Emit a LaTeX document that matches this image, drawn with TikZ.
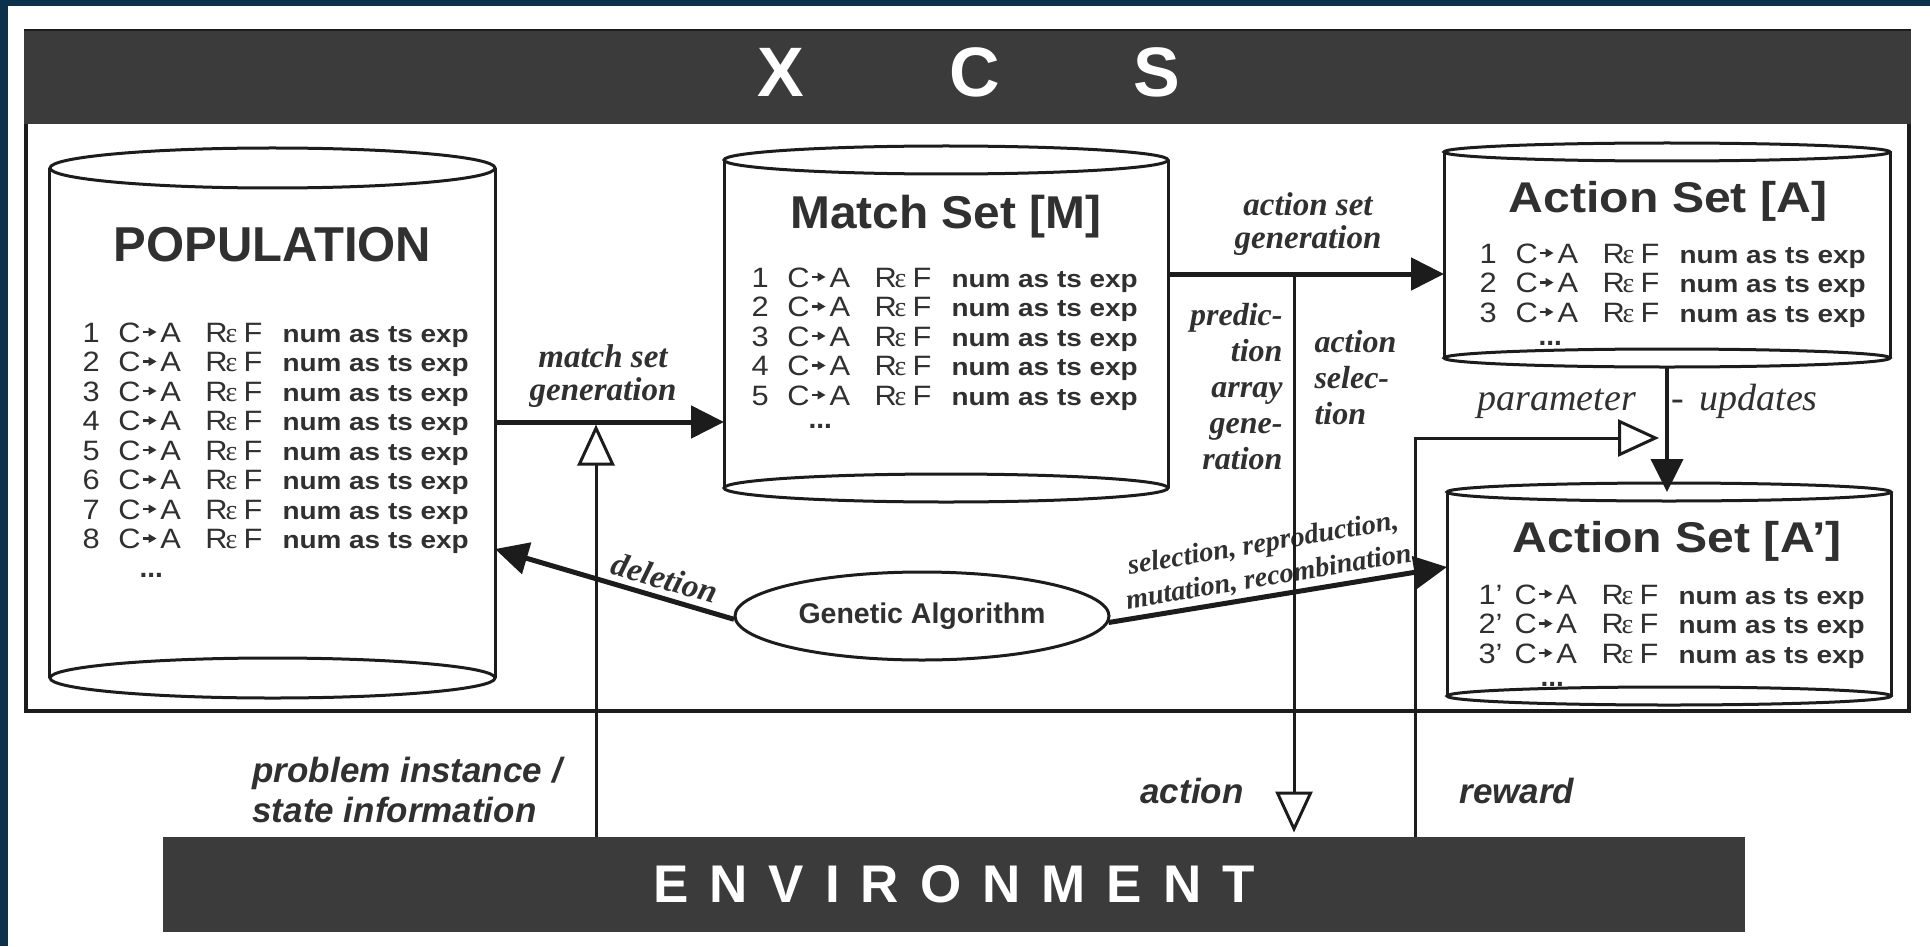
\documentclass[tikz,border=0pt]{standalone}
\usepackage{graphicx}
\usepackage{fontspec}
\setmainfont{Liberation Serif}
\setsansfont{Liberation Sans}
\newfontfamily\rowfont[FakeStretch=1.1]{Liberation Sans}
\newfontfamily\numfont[FakeStretch=1.14]{Liberation Sans}
\newfontfamily\epsfont{Liberation Serif}
\usetikzlibrary{arrows.meta,shapes.geometric}

\definecolor{navy}{HTML}{0C314C}
\definecolor{barfill}{HTML}{3B3B3B}
\definecolor{ink}{HTML}{1C1C1C}
\definecolor{txt}{HTML}{303030}

% one classifier line: id, condition -> action, R eps F, bookkeeping fields
\newcommand\clrow[1]{%
  \makebox[14.4pt][l]{#1}\makebox[8pt][l]{C}\hspace{8.8pt}%
  \makebox[18pt][l]{A}\makebox[8pt][l]{R}%
  \makebox[7.2pt][l]{\epsfont ε}\makebox[15.6pt][l]{F}%
  {\numfont\bfseries\fontsize{9.8pt}{12pt}\selectfont num as ts exp}}

% cylinder outline around a named body node
\newcommand\drawcyl[3]{%
  \draw[cylline] (#1.north west) -- (#1.south west)
                 (#1.north east) -- (#1.south east);
  \draw[cylline] (#1.north) ellipse [x radius=#2, y radius=#3]
                 (#1.south) ellipse [x radius=#2, y radius=#3];}

% classifier list: name, x, first baseline, count, suffix
\newcommand\rulerows[5]{%
  \foreach \i in {1,...,#4}{%
    \node[rowtext] (#1-r\i) at (#2,{#3+29.5*(\i-1)}) {\clrow{\i#5}};
    \pic at ({#2+60.5},{#3+29.5*(\i-1)}) {rowarrow};
  }}

\tikzset{
  cylline/.style={draw=ink, line width=1.2pt},
  cylbody/.style={inner sep=0pt, outer sep=0pt, draw=none},
  heavy/.style={draw=ink, line width=2pt, -{Triangle[length=13.2pt,width=12.8pt]}},
  hollow/.style={draw=ink, line width=1.2pt, -{Triangle[open,length=16.4pt,width=14.8pt]}},
  bartitle/.style={inner sep=0pt, text=white, font=\sffamily\bfseries\fontsize{28pt}{30pt}\selectfont},
  settitle/.style={inner sep=0pt, text=txt, anchor=base},
  rowtext/.style={anchor=base west, inner sep=0pt, text=txt, font=\rowfont\fontsize{11.2pt}{13pt}\selectfont},
  lblit/.style={inner sep=0pt, text=txt, align=center, font=\bfseries\itshape\fontsize{13.2pt}{13.2pt}\selectfont},
  lblitb/.style={inner sep=0pt, text=txt, font=\bfseries\itshape\fontsize{12.8pt}{14.4pt}\selectfont},
  lblitc/.style={inner sep=0pt, text=txt, align=center, font=\bfseries\itshape\fontsize{11.3pt}{13.6pt}\selectfont},
  lblpu/.style={inner sep=0pt, text=txt, font=\itshape\fontsize{15.2pt}{17pt}\selectfont},
  lblsans/.style={inner sep=0pt, text=txt, font=\sffamily\bfseries\itshape\fontsize{14pt}{16pt}\selectfont},
  rowarrow/.pic={
    \fill[txt] (0pt,3.55pt) rectangle (3.2pt,4.45pt);
    \fill[txt] (2.4pt,2.15pt) -- (5.6pt,4.0pt) -- (2.4pt,5.85pt) -- cycle;
  }
}

\begin{document}
\begin{tikzpicture}[x=0.4pt,y=-0.4pt]
\useasboundingbox (0,0) rectangle (1930,946);
\fill[white] (0,0) rectangle (1930,946);
\fill[navy] (0,0) rectangle (1930,6);
\fill[navy] (0,0) rectangle (8,946);

% system frame with its title bar
\draw[ink, line width=1.6pt] (25.5,31) rectangle (1909,711);
\node[fill=barfill, inner sep=0pt, minimum width=754.8pt, minimum height=37.2pt] (xcs) at (967.5,77.5) {};
\node[bartitle] (xcs-x) at (781,72) {X};
\node[bartitle] (xcs-c) at (975,72) {C};
\node[bartitle] (xcs-s) at (1157,72) {S};

% environment bar
\node[fill=barfill, inner sep=0pt, minimum width=632.8pt, minimum height=38pt, text=white,
      font=\sffamily\bfseries\fontsize{21.2pt}{24pt}\selectfont] (env) at (954,884.5)
  {E\kern8.4pt N\kern8.4pt V\kern8.4pt I\kern8.4pt R\kern8.4pt O\kern8.4pt N\kern8.4pt M\kern8.4pt E\kern8.4pt N\kern8.4pt T};

% classifier sets
\node[cylbody, minimum width=178pt, minimum height=204pt] (pop) at (272.5,423) {};
\drawcyl{pop}{89pt}{8pt}
\node[cylbody, minimum width=177.6pt, minimum height=131.2pt] (ms) at (946,324) {};
\drawcyl{ms}{88.8pt}{5.6pt}
\node[cylbody, minimum width=178.4pt, minimum height=82.4pt] (asa) at (1667,255) {};
\drawcyl{asa}{89.2pt}{3.6pt}
\node[cylbody, minimum width=177.6pt, minimum height=81.6pt] (asb) at (1669,594) {};
\drawcyl{asb}{88.8pt}{3.6pt}

\node[settitle, font=\sffamily\bfseries\fontsize{19.6pt}{22pt}\selectfont] (pop-title) at (272.5,261) {POPULATION};
\node[settitle, font=\sffamily\bfseries\fontsize{18.4pt}{20pt}\selectfont] (ms-title) at (946,228) {\scalebox{1.04}[1]{Match Set [M]}};
\node[settitle, font=\sffamily\bfseries\fontsize{17.2pt}{20pt}\selectfont] (asa-title) at (1668,212) {\scalebox{1.12}[1]{Action Set [A]}};
\node[settitle, font=\sffamily\bfseries\fontsize{17.2pt}{20pt}\selectfont] (asb-title) at (1677,552) {\scalebox{1.12}[1]{Action Set [A’]}};

\rulerows{pop}{82}{342}{8}{}
\rulerows{ms}{751}{287}{5}{}
\rulerows{asa}{1479}{263}{3}{}
\rulerows{asb}{1478}{604}{3}{’}
\node[rowtext] (pop-dots) at (139,577) {\sffamily\bfseries ...};
\node[rowtext] (ms-dots) at (808,428) {\sffamily\bfseries ...};
\node[rowtext] (asa-dots) at (1538,345) {\sffamily\bfseries ...};
\node[rowtext] (asb-dots) at (1540,686) {\sffamily\bfseries ...};

% genetic algorithm
\node[ellipse, draw=ink, line width=1.2pt, minimum width=149.6pt, minimum height=35.2pt, inner sep=0pt,
      text=txt, font=\sffamily\bfseries\fontsize{11.4pt}{13pt}\selectfont] (ga) at (922,616) {Genetic Algorithm};

% labels
\node[lblit, anchor=north] (lbl-msgen) at (603,344) {\strut match set\\generation};
\node[lblit, anchor=north] (lbl-asgen) at (1308,192) {\strut action set\\generation};
\node[lblitb, anchor=north east, align=right] (lbl-pa) at (1283,300) {\strut predic-\\tion\\array\\gene-\\ration};
\node[lblitb, anchor=north west, align=left] (lbl-sel) at (1314,327) {\strut action\\selec-\\tion};
\node[lblit, rotate=-16] (lbl-del) at (665,578) {deletion};
\node[lblitc, rotate=9.5] (lbl-ga) at (1266,561) {selection, reproduction,\\mutation, recombination};
\node[lblpu, anchor=base west] (lbl-par) at (1477,410) {parameter};
\node[lblpu, anchor=base west] (lbl-upd) at (1671,410) {\makebox[11.2pt][l]{-}updates};
\node[lblsans, anchor=north west, align=left] (lbl-prob) at (252,754) {\strut problem instance /\\state information};
\node[lblsans, anchor=base west] (lbl-act) at (1140,803) {action};
\node[lblsans, anchor=base west] (lbl-rew) at (1459,803) {reward};

% junction points of the connectors
\coordinate (msj) at (596,422);
\coordinate (actj) at (1294,274);
\coordinate (rewj) at (1415,438);
\coordinate (delj) at (495,549);
\coordinate (selj) at (1447,567);

% connectors
\draw[heavy] (pop.east |- msj) -- (ms.west |- msj);
\draw[hollow, shorten >=1pt] (env.north -| msj) -- (msj);
\draw[heavy] (ms.east |- actj) -- (asa.west |- actj);
\draw[hollow, shorten >=1.6pt] (actj) -- (actj |- env.north);
\draw[hollow, shorten >=3.2pt] (env.north -| rewj) -- (rewj) -- (rewj -| asa.south);
\draw[heavy, line width=1.6pt] ([yshift=-3.6pt]asa.south) -- (asa.south |- asb.north);
\draw[heavy] (ga.181) -- (pop.east |- delj);
\draw[heavy] (ga.-2) -- (asb.west |- selj);
\end{tikzpicture}
\end{document}
